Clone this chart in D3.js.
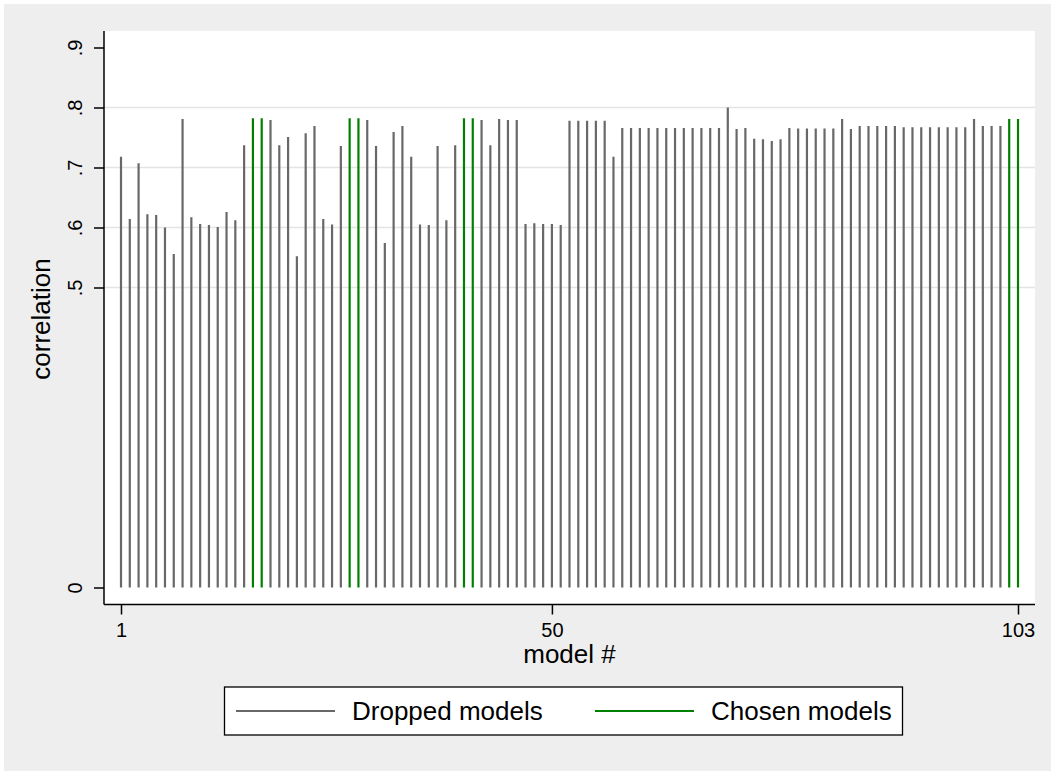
<!DOCTYPE html>
<html><head><meta charset="utf-8">
<script src="https://cdn.jsdelivr.net/npm/d3@7"></script>
<style>
html,body{margin:0;padding:0;background:#fff;}
svg text{font-family:"Liberation Sans",Arial,Helvetica,sans-serif;fill:#000;}
</style></head>
<body>
<svg id="c" width="1051" height="771"></svg>
<script>
// ---- data ----
const models = d3.range(1, 104);
const correlation = [
  0.718, 0.614, 0.707, 0.622, 0.621, 0.600, 0.556, 0.781, 0.617, 0.606,
  0.604, 0.601, 0.626, 0.612, 0.737, 0.782, 0.782, 0.779, 0.737, 0.751,
  0.552, 0.757, 0.769, 0.614, 0.605, 0.736, 0.782, 0.782, 0.779, 0.736,
  0.574, 0.759, 0.769, 0.718, 0.605, 0.604, 0.736, 0.612, 0.737, 0.782,
  0.782, 0.779, 0.737, 0.781, 0.779, 0.779, 0.606, 0.607, 0.606, 0.606,
  0.604, 0.778, 0.778, 0.778, 0.778, 0.778, 0.718, 0.766, 0.766, 0.766,
  0.766, 0.766, 0.766, 0.766, 0.766, 0.766, 0.766, 0.766, 0.766, 0.800,
  0.764, 0.766, 0.748, 0.747, 0.744, 0.747, 0.766, 0.765, 0.765, 0.765,
  0.765, 0.765, 0.781, 0.764, 0.769, 0.769, 0.769, 0.769, 0.769, 0.767,
  0.767, 0.767, 0.767, 0.767, 0.767, 0.767, 0.767, 0.781, 0.769, 0.769,
  0.769, 0.781, 0.781
];
const chosenModels = [16, 17, 27, 28, 40, 41, 102, 103];
const yTicks = [0, 0.5, 0.6, 0.7, 0.8, 0.9];
const yTickLabels = ["0", ".5", ".6", ".7", ".8", ".9"];
const yGrid = [0.5, 0.6, 0.7, 0.8];
const xTicks = [1, 50, 103];
const seriesNames = ["Dropped models", "Chosen models"];
const seriesColors = ["#686868", "#008000"];

// ---- layout ----
const svg = d3.select("#c");
const plot = {x0: 104, x1: 1035, y0: 31, y1: 604.5};
const x = d3.scaleLinear().domain([1, 103]).range([121, 1018]);
const y = d3.scaleLinear().domain([0, 0.9]).range([587.5, 47.5]);

svg.append("rect").attr("x", 4).attr("y", 4).attr("width", 1047).attr("height", 767).attr("fill", "#eeeeee");
svg.append("rect").attr("x", plot.x0).attr("y", plot.y0)
  .attr("width", plot.x1 - plot.x0).attr("height", plot.y1 - plot.y0).attr("fill", "#fff");

// grid
svg.append("g").selectAll("line").data(yGrid).join("line")
  .attr("x1", plot.x0).attr("x2", plot.x1)
  .attr("y1", d => y(d)).attr("y2", d => y(d))
  .attr("stroke", "#e4e4e4").attr("stroke-width", 1.5);

// spikes
const data = models.map((m, i) => ({m, v: correlation[i], chosen: chosenModels.includes(m)}));
svg.append("g").selectAll("line").data(data).join("line")
  .attr("x1", d => x(d.m)).attr("x2", d => x(d.m))
  .attr("y1", y(0)).attr("y2", d => y(d.v))
  .attr("stroke", d => d.chosen ? seriesColors[1] : seriesColors[0])
  .attr("stroke-width", 2.2);

// y axis
const yAxis = d3.axisLeft(y).tickValues(yTicks).tickSize(10).tickPadding(0)
  .tickFormat((d, i) => yTickLabels[i]);
const gy = svg.append("g").attr("transform", `translate(${plot.x0},0)`).call(yAxis);
gy.select(".domain").attr("d", `M0,${plot.y0}V${plot.y1}`).attr("stroke", "#000").attr("stroke-width", 1.5);
gy.selectAll(".tick line").attr("stroke", "#000").attr("stroke-width", 1.5);
gy.selectAll(".tick text")
  .attr("x", null).attr("dy", null)
  .attr("transform", "translate(-22,0) rotate(-90)")
  .attr("text-anchor", "middle").attr("font-size", 20)
  .attr("font-family", "Liberation Sans, Arial, sans-serif");

// x axis
const xAxis = d3.axisBottom(x).tickValues(xTicks).tickSize(10).tickPadding(0).tickFormat(d3.format("d"));
const gx = svg.append("g").attr("transform", `translate(0,${plot.y1})`).call(xAxis);
gx.select(".domain").attr("d", `M${plot.x0},0H${plot.x1}`).attr("stroke", "#000").attr("stroke-width", 1.5);
gx.selectAll(".tick line").attr("stroke", "#000").attr("stroke-width", 1.5);
gx.selectAll(".tick text").attr("y", 32).attr("dy", null)
  .attr("font-size", 20).attr("font-family", "Liberation Sans, Arial, sans-serif");

// axis titles
svg.append("text").attr("transform", "translate(50,319) rotate(-90)")
  .attr("text-anchor", "middle").attr("font-size", 26).text("correlation");
svg.append("text").attr("x", (plot.x0 + plot.x1) / 2).attr("y", 663)
  .attr("text-anchor", "middle").attr("font-size", 26).text("model #");

// legend
const lg = svg.append("g");
lg.append("rect").attr("x", 224.5).attr("y", 687).attr("width", 678).attr("height", 48)
  .attr("fill", "#fff").attr("stroke", "#000").attr("stroke-width", 1.3);
const legendX = [236, 595];
seriesNames.forEach((name, i) => {
  lg.append("line").attr("x1", legendX[i]).attr("x2", legendX[i] + 99)
    .attr("y1", 711).attr("y2", 711).attr("stroke", seriesColors[i]).attr("stroke-width", 2.2);
  lg.append("text").attr("x", legendX[i] + 116).attr("y", 720)
    .attr("font-size", 26).text(name);
});
</script>
</body></html>
